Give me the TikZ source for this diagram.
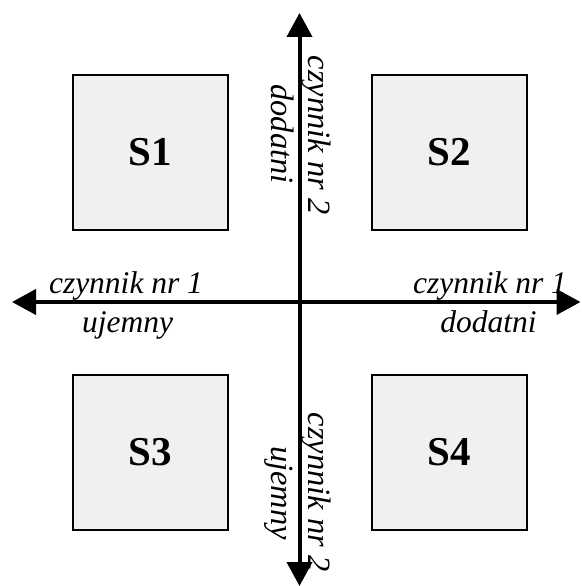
\documentclass[tikz,border=0pt]{standalone}
\usepackage{fontspec}
\setmainfont{Liberation Serif}
\usetikzlibrary{arrows.meta}

\tikzset{
  quad/.style={draw=black, line width=2pt, fill=gray!12, minimum size=155pt, inner sep=0pt,
    font=\fontsize{41}{45}\selectfont\bfseries},
  axis/.style={line width=4pt, -{Triangle[length=24pt,width=25pt]}},
  lbl/.style={font=\fontsize{31.5}{36}\selectfont\itshape, inner sep=0pt, anchor=base},
  vlbl/.style={lbl, rotate=-90, font=\fontsize{32.5}{36}\selectfont\itshape},
}

\begin{document}
\begin{tikzpicture}[x=1pt,y=-1pt]
\useasboundingbox (0,0) rectangle (581,586);

\coordinate (o) at (299.5,302);
\coordinate (left) at (12,302);
\coordinate (right) at (580.5,302);
\coordinate (top) at (299.5,13);
\coordinate (bottom) at (299.5,586);

\node [quad] (s1) at (150,152) {S1};
\node [quad] (s2) at (449.5,152) {S2};
\node [quad] (s3) at (150,452) {S3};
\node [quad] (s4) at (449.5,452) {S4};

\draw [axis] (o) -- (left);
\draw [axis] (o) -- (right);
\draw [axis] (o) -- (top);
\draw [axis] (o) -- (bottom);

\node [lbl] (c1l) at (126,293) {czynnik nr 1};
\node [lbl] (ujl) at (127.5,332) {ujemny};
\node [lbl] (c1r) at (490,293) {czynnik nr 1};
\node [lbl] (dor) at (488.5,332) {dodatni};

\node [vlbl] (c2t) at (308,135) {czynnik nr 2};
\node [vlbl] (dot) at (271,134) {dodatni};
\node [vlbl] (c2b) at (308,492) {czynnik nr 2};
\node [vlbl] (ujb) at (271,493) {ujemny};
\end{tikzpicture}
\end{document}
